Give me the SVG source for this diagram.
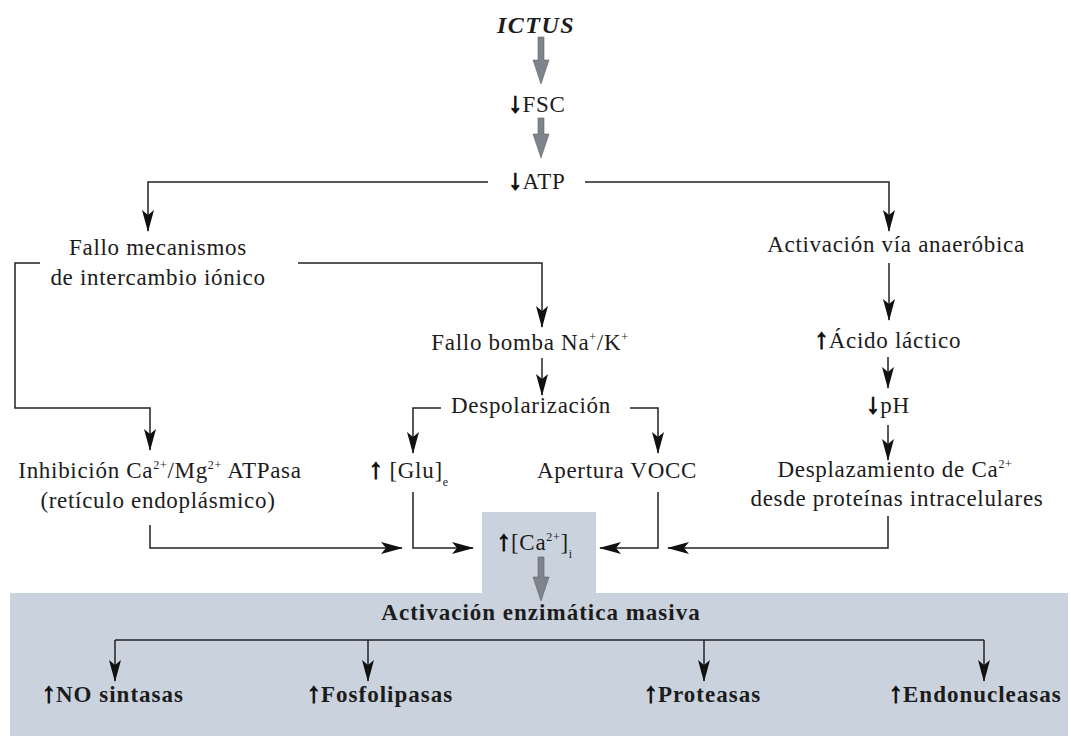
<svg xmlns="http://www.w3.org/2000/svg" width="1071" height="736" viewBox="0 0 1071 736">
<style>
.t{font-family:"Liberation Serif","Times New Roman",serif;font-size:23px;fill:#1c1c1c;letter-spacing:0.7px}
.m{text-anchor:middle}
.b{font-weight:bold;letter-spacing:1px}
.sup{font-size:12px}
.ar{fill:#111;stroke:#111;stroke-width:1.1px;font-weight:bold;font-size:28px;letter-spacing:0}
.ln{fill:none;stroke:#222;stroke-width:1.5}
.ga{fill:#7e838c;stroke:#5e626a;stroke-width:0.6}
</style>
<defs>
<marker id="ah" viewBox="0 0 22 12" refX="21" refY="6" markerWidth="22" markerHeight="12" markerUnits="userSpaceOnUse" orient="auto">
<path d="M0,0 L22,6 L0,12 L5,6 Z" fill="#111"/>
</marker>
</defs>
<rect width="1071" height="736" fill="#ffffff"/>
<g id="bg-box">
<rect x="10" y="593" width="1058" height="143" fill="#c9d2dd"/>
<rect x="482" y="512" width="114" height="82" fill="#c9d2dd"/>
</g>
<g id="connectors">
<polygon class="ga" points="538,37 544,37 544,60 549,60 541,84 533,60 538,60"/>
<polygon class="ga" points="538,118 544,118 544,134 549,134 541,158 533,134 538,134"/>
<polygon class="ga" points="538,557 544,557 544,577 549,577 541,601 533,577 538,577"/>
<polyline class="ln" points="488,182 148,182 148,231" marker-end="url(#ah)"/>
<polyline class="ln" points="585,182 889,182 889,231" marker-end="url(#ah)"/>
<polyline class="ln" points="40,263 15,263 15,408 150,408 150,450" marker-end="url(#ah)"/>
<polyline class="ln" points="298,263 542,263 542,327" marker-end="url(#ah)"/>
<line class="ln" x1="542" y1="358" x2="542" y2="395" marker-end="url(#ah)"/>
<polyline class="ln" points="441,408 413,408 413,453" marker-end="url(#ah)"/>
<polyline class="ln" points="630,408 658,408 658,453" marker-end="url(#ah)"/>
<line class="ln" x1="889" y1="263" x2="889" y2="320" marker-end="url(#ah)"/>
<line class="ln" x1="888" y1="357" x2="888" y2="388" marker-end="url(#ah)"/>
<line class="ln" x1="888" y1="425" x2="888" y2="460" marker-end="url(#ah)"/>
<polyline class="ln" points="150,525 150,548 402,548" marker-end="url(#ah)"/>
<polyline class="ln" points="413,492 413,548 473,548" marker-end="url(#ah)"/>
<polyline class="ln" points="658,492 658,548 600,548" marker-end="url(#ah)"/>
<polyline class="ln" points="888,516 888,548 668,548" marker-end="url(#ah)"/>
<line class="ln" x1="115" y1="640" x2="984" y2="640"/>
<line class="ln" x1="115" y1="640" x2="115" y2="681" marker-end="url(#ah)"/>
<line class="ln" x1="368" y1="640" x2="368" y2="681" marker-end="url(#ah)"/>
<line class="ln" x1="704" y1="640" x2="704" y2="681" marker-end="url(#ah)"/>
<line class="ln" x1="984" y1="640" x2="984" y2="681" marker-end="url(#ah)"/>
</g>
<g id="n-ictus"><text class="t m" x="536" y="33" style="font-weight:bold;font-style:italic;font-size:24px;letter-spacing:1.5px">ICTUS</text></g>
<g id="n-fsc"><text class="t m" x="537" y="112"><tspan class="ar">↓</tspan>FSC</text></g>
<g id="n-atp"><text class="t m" x="537" y="189"><tspan class="ar">↓</tspan>ATP</text></g>
<g id="n-fallo-mec">
<text class="t m" x="158" y="255">Fallo mecanismos</text>
<text class="t m" x="158" y="285">de intercambio iónico</text>
</g>
<g id="n-anaerobica"><text class="t m" x="896" y="252">Activación vía anaeróbica</text></g>
<g id="n-bomba"><text class="t m" x="530" y="350">Fallo bomba Na<tspan class="sup" dy="-9">+</tspan><tspan dy="9">/K</tspan><tspan class="sup" dy="-9">+</tspan></text></g>
<g id="n-despol"><text class="t m" x="531" y="413">Despolarización</text></g>
<g id="n-lactico"><text class="t m" x="888" y="348"><tspan class="ar">↑</tspan>Ácido láctico</text></g>
<g id="n-ph"><text class="t m" x="888" y="413"><tspan class="ar">↓</tspan>pH</text></g>
<g id="n-inhib">
<text class="t m" x="160" y="478">Inhibición Ca<tspan class="sup" dy="-9">2+</tspan><tspan dy="9">/Mg</tspan><tspan class="sup" dy="-9">2+</tspan><tspan dy="9"> ATPasa</tspan></text>
<text class="t m" x="158" y="508">(retículo endoplásmico)</text>
</g>
<g id="n-glu"><text class="t" x="369" y="478"><tspan class="ar">↑</tspan> [Glu]<tspan class="sup" dy="8">e</tspan></text></g>
<g id="n-vocc"><text class="t m" x="617" y="478">Apertura VOCC</text></g>
<g id="n-desplaz">
<text class="t m" x="895" y="477">Desplazamiento de Ca<tspan class="sup" dy="-9">2+</tspan></text>
<text class="t m" x="897" y="506">desde proteínas intracelulares</text>
</g>
<g id="n-ca"><text class="t" x="497" y="550"><tspan class="ar">↑</tspan>[Ca<tspan class="sup" dy="-9">2+</tspan><tspan dy="9">]</tspan><tspan class="sup" dy="8">i</tspan></text></g>
<g id="n-activacion"><text class="t m b" x="541" y="620">Activación enzimática masiva</text></g>
<g id="n-no"><text class="t b" x="42" y="702"><tspan class="ar">↑</tspan>NO sintasas</text></g>
<g id="n-fosfo"><text class="t b" x="307" y="702"><tspan class="ar">↑</tspan>Fosfolipasas</text></g>
<g id="n-prot"><text class="t b" x="644" y="702"><tspan class="ar">↑</tspan>Proteasas</text></g>
<g id="n-endo"><text class="t b" x="889" y="702"><tspan class="ar">↑</tspan>Endonucleasas</text></g>
</svg>
